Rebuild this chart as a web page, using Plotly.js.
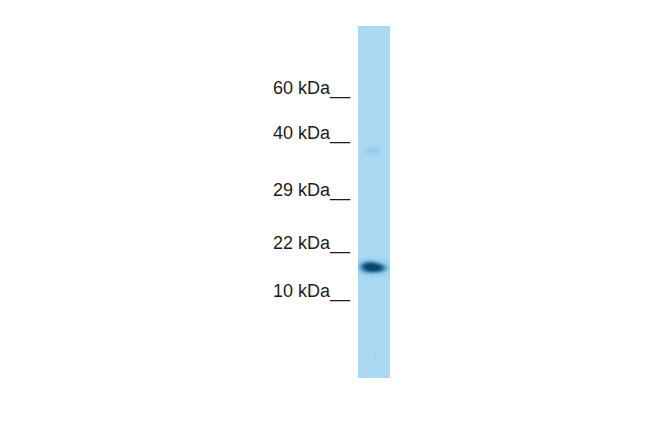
<!DOCTYPE html>
<html>
<head>
<meta charset="utf-8">
<script src="https://cdn.plot.ly/plotly-3.0.1.min.js"></script>
<style>
  html, body { margin: 0; padding: 0; background: #fff; }
  #blot { width: 650px; height: 432px; }
</style>
</head>
<body>
<div id="blot"></div>
<script>
// ─── Data ────────────────────────────────────────────────────────────────────

// molecular weight ladder, and the row (px from top) each marker sits at
const markerLabels = ['60 kDa', '40 kDa', '29 kDa', '22 kDa', '10 kDa'];
const markerRows   = [88, 133, 190, 243, 291];

// lane extent (image columns / rows)
const laneCols = [358, 390];
const laneRows = [26, 378];

// detected spots in the lane: centre, spread, relative signal
const bandRow      = [267, 268, 151, 355];
const bandCol      = [369, 379, 373, 375.5];
const bandSpreadX  = [6.0, 5.5, 4.5, 0.8];
const bandSpreadY  = [3.8, 3.3, 2.8, 1.2];
const bandSignal   = [1.05, 0.7, 0.16, 0.15];

// ─── Lane image ──────────────────────────────────────────────────────────────

function laneIntensity(col, row) {
  let v = 0;
  for (let i = 0; i < bandRow.length; i++) {
    const dx = (col - bandCol[i]) / bandSpreadX[i];
    const dy = (row - bandRow[i]) / bandSpreadY[i];
    v += bandSignal[i] * Math.exp(-0.5 * (dx * dx + dy * dy));
  }
  return Math.min(v, 1);
}

const nCols = laneCols[1] - laneCols[0];
const nRows = laneRows[1] - laneRows[0];
const z = [];
for (let r = 0; r < nRows; r++) {
  const line = [];
  for (let c = 0; c < nCols; c++) {
    line.push(laneIntensity(laneCols[0] + c + 0.5, laneRows[0] + r + 0.5));
  }
  z.push(line);
}

const lane = {
  type: 'heatmap',
  z: z,
  x0: laneCols[0] + 0.5, dx: 1,
  y0: laneRows[0] + 0.5, dy: 1,
  zmin: 0, zmax: 1,
  colorscale: [
    [0.00, '#a9d9f3'],
    [0.15, '#94cbea'],
    [0.40, '#5a9fcb'],
    [0.70, '#23688f'],
    [1.00, '#0f4667'],
  ],
  showscale: false,
  hoverinfo: 'skip',
};

// ─── Layout ──────────────────────────────────────────────────────────────────

const layout = {
  width: 650,
  height: 432,
  margin: { t: 0, b: 0, l: 0, r: 0 },
  paper_bgcolor: '#ffffff',
  plot_bgcolor:  '#ffffff',
  xaxis: { range: [0, 650], visible: false, fixedrange: true },
  yaxis: { range: [432, 0], visible: false, fixedrange: true },
  showlegend: false,
  annotations: markerLabels.map((lbl, i) => ({
    x: 353,
    y: markerRows[i],
    xref: 'x', yref: 'y',
    xanchor: 'right',
    yanchor: 'middle',
    text: lbl + '__',
    showarrow: false,
    font: { family: 'Liberation Sans, Arial, sans-serif', size: 18, color: '#1c1c1c' },
  })),
};

Plotly.newPlot('blot', [lane], layout, { staticPlot: true, displayModeBar: false });
</script>
</body>
</html>
